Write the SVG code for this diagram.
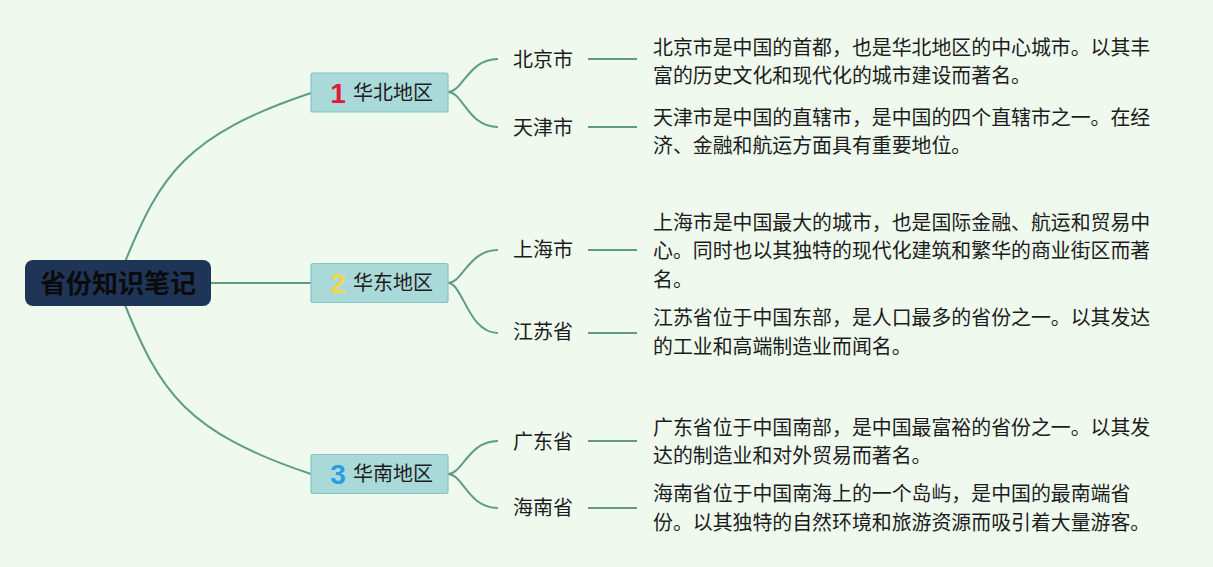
<svg xmlns="http://www.w3.org/2000/svg" width="1213" height="567" viewBox="0 0 1213 567">
<style>
.bg{fill:#eff9ee}
.conn{fill:none;stroke:#5e9c89;stroke-width:2}
.root{fill:#1f3557}
.roottxt{font-family:"Noto Sans CJK SC","Noto Sans",sans-serif;font-weight:bold;font-size:26px;fill:#0b0b0b;text-anchor:middle}
.reg{fill:#a9d9d9;stroke:#88c4c0;stroke-width:1.2}
.regtxt{font-family:"Noto Sans CJK SC","Noto Sans",sans-serif;font-size:20px;fill:#1c1c1c}
.num{font-family:"Liberation Sans","Noto Sans",sans-serif;font-weight:bold;font-size:28px;text-anchor:middle}
.city{font-family:"Noto Sans CJK SC","Noto Sans",sans-serif;font-size:20px;fill:#1c1c1c}
.desc{font-family:"Noto Sans CJK SC","Noto Sans",sans-serif;font-size:19.9px;fill:#1c1c1c}
</style>
<rect class="bg" x="0" y="0" width="1213" height="567"/>
<g id="connectors">
<path class="conn" d="M125,262 C160,176 185,135 311,93"/>
<path class="conn" d="M125,305 C160,391 185,432 311,474"/>
<path class="conn" d="M211,283 L311,283"/>
<path class="conn" d="M448,92 C463,92 468,59 498,59"/>
<path class="conn" d="M448,92 C463,92 468,127 498,127"/>
<path class="conn" d="M448,283 C463,283 468,250 498,250"/>
<path class="conn" d="M448,283 C463,283 468,333 498,333"/>
<path class="conn" d="M448,474 C463,474 468,441 498,441"/>
<path class="conn" d="M448,474 C463,474 468,508 498,508"/>
<path class="conn" d="M588,59 L637,59"/>
<path class="conn" d="M588,127 L637,127"/>
<path class="conn" d="M588,250 L637,250"/>
<path class="conn" d="M588,333 L637,333"/>
<path class="conn" d="M588,441 L637,441"/>
<path class="conn" d="M588,508 L637,508"/>
</g>
<g id="root">
<rect class="root" x="25" y="260" width="186" height="46" rx="8"/>
<text class="roottxt" x="118" y="292.5">省份知识笔记</text>
</g>
<g id="region1">
<rect class="reg" x="311" y="73" width="137" height="39" rx="2"/>
<text class="num" x="338" y="102.5" fill="#e2193a">1</text>
<text class="regtxt" x="353" y="99.5">华北地区</text>
</g>
<g id="region2">
<rect class="reg" x="311" y="263.5" width="137" height="39" rx="2"/>
<text class="num" x="338" y="293" fill="#f3d64c">2</text>
<text class="regtxt" x="353" y="290">华东地区</text>
</g>
<g id="region3">
<rect class="reg" x="311" y="454.5" width="137" height="39" rx="2"/>
<text class="num" x="338" y="484" fill="#2b9de0">3</text>
<text class="regtxt" x="353" y="481">华南地区</text>
</g>
<g id="city-beijing"><text class="city" x="513" y="67">北京市</text></g>
<g id="city-tianjin"><text class="city" x="513" y="135">天津市</text></g>
<g id="city-shanghai"><text class="city" x="513" y="257">上海市</text></g>
<g id="city-jiangsu"><text class="city" x="513" y="339">江苏省</text></g>
<g id="city-guangdong"><text class="city" x="513" y="449">广东省</text></g>
<g id="city-hainan"><text class="city" x="513" y="515">海南省</text></g>
<g id="desc-beijing">
<text class="desc" x="653" y="54.5">北京市是中国的首都，也是华北地区的中心城市。以其丰</text>
<text class="desc" x="653" y="83">富的历史文化和现代化的城市建设而著名。</text>
</g>
<g id="desc-tianjin">
<text class="desc" x="653" y="124.5">天津市是中国的直辖市，是中国的四个直辖市之一。在经</text>
<text class="desc" x="653" y="153">济、金融和航运方面具有重要地位。</text>
</g>
<g id="desc-shanghai">
<text class="desc" x="653" y="229.5">上海市是中国最大的城市，也是国际金融、航运和贸易中</text>
<text class="desc" x="653" y="258">心。同时也以其独特的现代化建筑和繁华的商业街区而著</text>
<text class="desc" x="653" y="286.5">名。</text>
</g>
<g id="desc-jiangsu">
<text class="desc" x="653" y="325">江苏省位于中国东部，是人口最多的省份之一。以其发达</text>
<text class="desc" x="653" y="353.5">的工业和高端制造业而闻名。</text>
</g>
<g id="desc-guangdong">
<text class="desc" x="653" y="434.5">广东省位于中国南部，是中国最富裕的省份之一。以其发</text>
<text class="desc" x="653" y="463">达的制造业和对外贸易而著名。</text>
</g>
<g id="desc-hainan">
<text class="desc" x="653" y="501">海南省位于中国南海上的一个岛屿，是中国的最南端省</text>
<text class="desc" x="653" y="529.5">份。以其独特的自然环境和旅游资源而吸引着大量游客。</text>
</g>
</svg>
